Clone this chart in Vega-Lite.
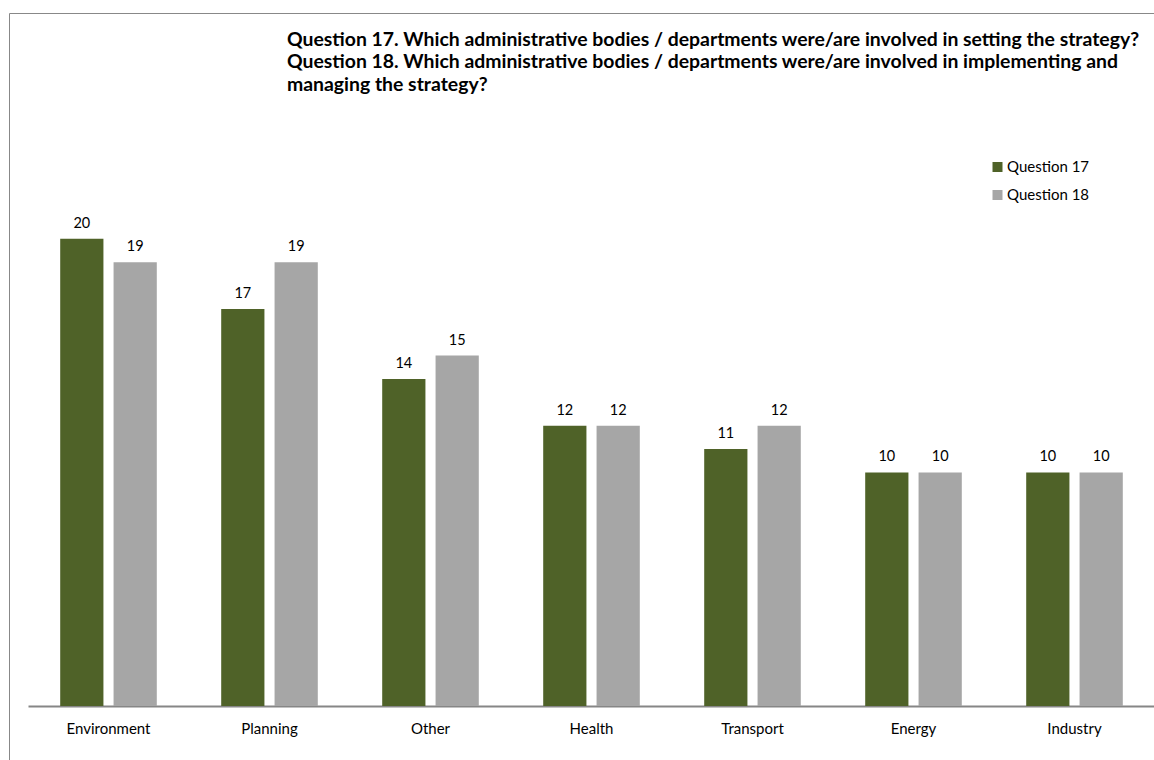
{
  "$schema": "https://vega.github.io/schema/vega-lite/v6.json",
  "width": 1145,
  "height": 747,
  "autosize": {"type": "none"},
  "padding": {"left": 9, "top": 13, "right": 0, "bottom": 0},
  "background": "#ffffff",
  "config": {"view": {"stroke": null}},
  "title": {
    "text": [
      "Question 17. Which administrative bodies / departments were/are involved in setting  the strategy?",
      "Question 18. Which administrative bodies / departments were/are involved in implementing and",
      "managing the strategy?"
    ],
    "anchor": "start",
    "frame": "group",
    "dx": 278,
    "dy": 97,
    "offset": 0,
    "baseline": "alphabetic",
    "lineHeight": 22.5,
    "font": "Lato",
    "fontSize": 19.4,
    "fontWeight": "bold",
    "color": "#000000"
  },
  "layer": [
    {
      "data": {
        "values": [
          {"category": "Environment", "series": "Question 17", "value": 20},
          {"category": "Environment", "series": "Question 18", "value": 19},
          {"category": "Planning", "series": "Question 17", "value": 17},
          {"category": "Planning", "series": "Question 18", "value": 19},
          {"category": "Other", "series": "Question 17", "value": 14},
          {"category": "Other", "series": "Question 18", "value": 15},
          {"category": "Health", "series": "Question 17", "value": 12},
          {"category": "Health", "series": "Question 18", "value": 12},
          {"category": "Transport", "series": "Question 17", "value": 11},
          {"category": "Transport", "series": "Question 18", "value": 12},
          {"category": "Energy", "series": "Question 17", "value": 10},
          {"category": "Energy", "series": "Question 18", "value": 10},
          {"category": "Industry", "series": "Question 17", "value": 10},
          {"category": "Industry", "series": "Question 18", "value": 10}
        ]
      },
      "encoding": {
        "x": {
          "field": "category",
          "type": "nominal",
          "sort": null,
          "scale": {"range": [19, 1146], "paddingInner": 0.4, "paddingOuter": 0.2},
          "axis": {
            "orient": "bottom",
            "offset": -54,
            "title": null,
            "ticks": false,
            "labelAngle": 0,
            "domainColor": "#868686",
            "domainWidth": 2,
            "labelFont": "Lato",
            "labelFontSize": 15,
            "labelColor": "#000000",
            "labelPadding": 15
          }
        },
        "xOffset": {
          "field": "series",
          "type": "nominal",
          "scale": {"paddingInner": 0.19, "paddingOuter": 0}
        },
        "y": {
          "field": "value",
          "type": "quantitative",
          "scale": {"domain": [0, 25], "range": [693, 109], "nice": false, "zero": true},
          "axis": null
        }
      },
      "layer": [
        {
          "mark": {"type": "bar"},
          "encoding": {
            "color": {
              "field": "series",
              "type": "nominal",
              "scale": {"domain": ["Question 17", "Question 18"], "range": ["#4F6228", "#A6A6A6"]},
              "legend": {
                "title": null,
                "orient": "none",
                "legendX": 981,
                "legendY": 146.5,
                "padding": 0,
                "symbolType": "square",
                "symbolSize": 100,
                "symbolStrokeWidth": 0,
                "symbolOpacity": 1,
                "labelFont": "Lato",
                "labelFontSize": 15,
                "labelColor": "#000000",
                "labelOffset": 2,
                "rowPadding": 12
              }
            }
          }
        },
        {
          "mark": {"type": "text", "baseline": "alphabetic", "dy": -11, "font": "Lato", "fontSize": 14.5, "color": "#000000"},
          "encoding": {"text": {"field": "value", "type": "quantitative"}}
        }
      ]
    },
    {
      "data": {"values": [{"left": 0, "top": 1, "right": 10, "bottom": -10}]},
      "mark": {"type": "rect", "filled": false, "stroke": "#888888", "strokeWidth": 1},
      "encoding": {
        "x": {"field": "left", "type": "quantitative", "scale": {"domain": [0, 1], "range": [0.5, 1145], "nice": false, "zero": false}, "axis": null},
        "x2": {"field": "right"},
        "y": {"field": "top", "type": "quantitative", "scale": {"domain": [0, 1], "range": [747, 0.5], "nice": false, "zero": false}, "axis": null},
        "y2": {"field": "bottom"}
      }
    }
  ],
  "resolve": {
    "scale": {"x": "independent", "y": "independent"},
    "axis": {"x": "independent", "y": "independent"}
  }
}
